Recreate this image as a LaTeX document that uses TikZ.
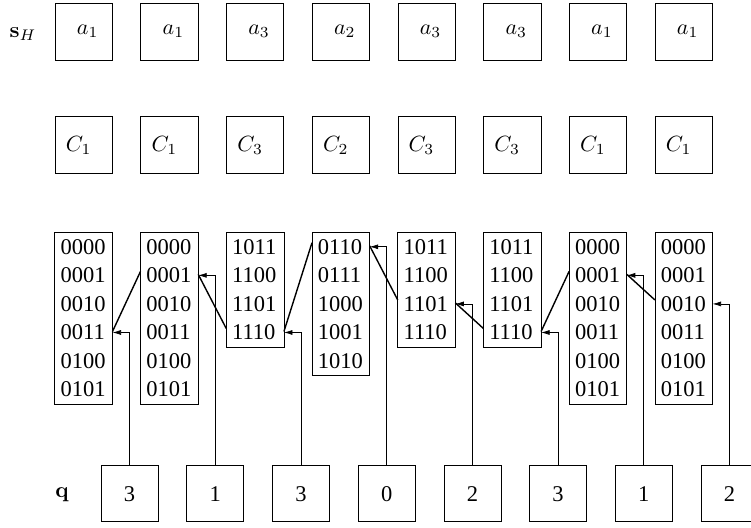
\documentclass[tikz,border=0pt]{standalone}
\usepackage{graphicx}
\usepackage[no-math]{fontspec}
\setmainfont{Liberation Serif}
\usetikzlibrary{arrows.meta,fit}
\newcommand{\bigmath}[1]{{\fontsize{10}{12}\selectfont\scalebox{2.2}{$#1$}}}
\tikzset{
  big/.style={font=\fontsize{22.5}{26}\selectfont},
  sqbox/.style={big, draw, line width=0.7pt, minimum width=57.3pt, minimum height=57pt, inner sep=0pt},
  qbox/.style={big, draw, line width=0.7pt, minimum width=57pt, minimum height=56pt, inner sep=0pt},
  rowcell/.style={big, inner xsep=5.7pt, inner ysep=0pt, text width=45.9pt, minimum height=28.56pt, align=left},
  outline/.style={draw, line width=0.7pt, inner sep=0pt},
  qline/.style={line width=0.7pt, -{Latex[length=8.5pt,width=5pt]}},
  chainline/.style={line width=1.4pt},
  lbl/.style={big, inner sep=0pt}
}
\begin{document}
\begin{tikzpicture}[x=1pt,y=-1pt]
\useasboundingbox (0,0) rectangle (751,527);
\clip (0,0) rectangle (751,527);
% labels
\node[lbl] (sH) at (23,34) {\bigmath{\mathbf{s}_H}};
\node[lbl] (qlab) at (62,495) {\bigmath{\mathbf{q}}};
% top rows
\foreach \i/\t in {1/1,2/1,3/3,4/2,5/3,6/3,7/1,8/1}{
  \pgfmathsetmacro\cx{83.65+85.72*(\i-1)}
  \node[sqbox] (a\i) at (\cx,31.5) {\hspace*{8pt}\bigmath{a_{\t}}};
  \node[sqbox] (c\i) at (\cx,145.3) {\bigmath{C_{\t}}\hspace*{10pt}};
}
% lists
\foreach \i/\n/\items in {
  1/5/{0000,0001,0010,0011,0100,0101},
  2/5/{0000,0001,0010,0011,0100,0101},
  3/3/{1011,1100,1101,1110},
  4/4/{0110,0111,1000,1001,1010},
  5/3/{1011,1100,1101,1110},
  6/3/{1011,1100,1101,1110},
  7/5/{0000,0001,0010,0011,0100,0101},
  8/5/{0000,0001,0010,0011,0100,0101}}{
  \pgfmathsetmacro\cx{83.65+85.72*(\i-1)}
  \foreach \w [count=\k from 0] in \items {
    \pgfmathsetmacro\cy{246.8+28.56*\k}
    \node[rowcell] (L\i r\k) at (\cx,\cy) {\w};
  }
  \node[outline, fit=(L\i r0)(L\i r\n)] (F\i) {};
}
% q boxes
\foreach \i/\v in {1/3,2/1,3/3,4/0,5/2,6/3,7/1,8/2}{
  \pgfmathsetmacro\qx{129.5+85.72*(\i-1)}
  \node[qbox] (q\i) at (\qx,493.7) {\v};
}
% q pointers
\foreach \i/\r in {1/3,2/1,3/3,4/0,5/2,6/3,7/1,8/2}{
  \draw[qline] (q\i.north) |- (L\i r\r.east);
}
% chain links
\foreach \i/\r/\j/\s in {2/1/1/3,3/3/2/1,4/0/3/3,5/2/4/0,6/3/5/2,7/1/6/3,8/2/7/1}{
  \draw[chainline] ([yshift=4pt]L\i r\r.west) -- ([yshift=1pt]L\j r\s.east);
}
\end{tikzpicture}
\end{document}
